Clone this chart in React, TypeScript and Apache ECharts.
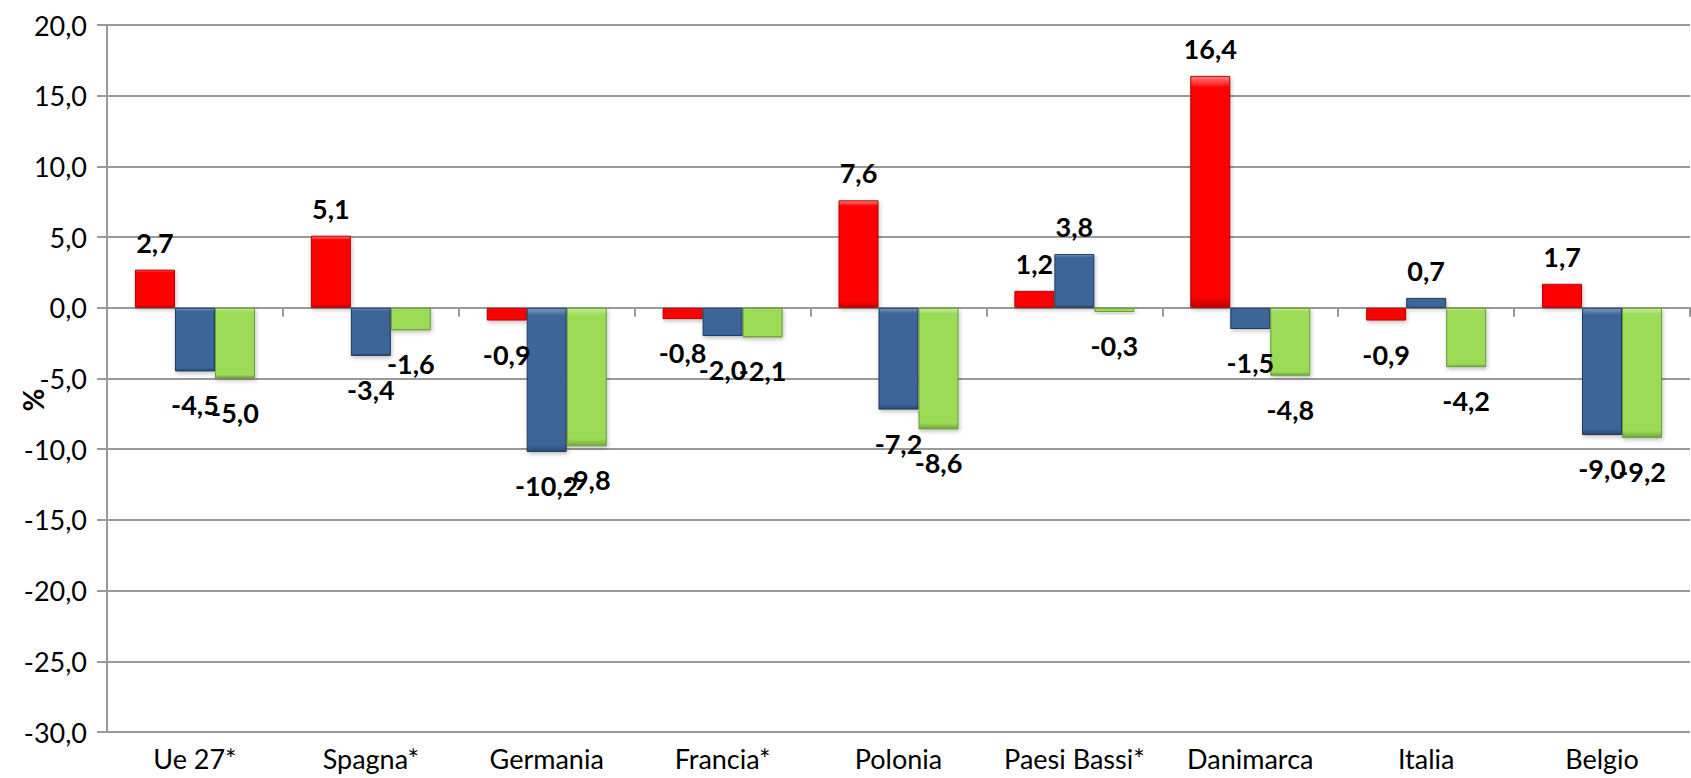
import React, { useEffect, useRef } from "react";
import * as echarts from "echarts";

const categories = ["Ue 27*", "Spagna*", "Germania", "Francia*", "Polonia", "Paesi Bassi*", "Danimarca", "Italia", "Belgio"];
const seriesRed = [2.7, 5.1, -0.9, -0.8, 7.6, 1.2, 16.4, -0.9, 1.7];
const seriesBlue = [-4.5, -3.4, -10.2, -2.0, -7.2, 3.8, -1.5, 0.7, -9.0];
const seriesGreen = [-5.0, -1.6, -9.8, -2.1, -8.6, -0.3, -4.8, -4.2, -9.2];
const yMin = -30;
const yMax = 20;
const yStep = 5;

const FONT = "Lato";

function fmt(v: number) {
  return v.toFixed(1).replace(".", ",");
}

function grad(light: string, base: string, dark: string) {
  return new echarts.graphic.LinearGradient(0, 0, 0, 1, [
    { offset: 0, color: light },
    { offset: 0.05, color: base },
    { offset: 0.95, color: base },
    { offset: 1, color: dark },
  ]);
}

function makeSeries(name: string, values: number[], light: string, base: string, dark: string, border: string) {
  return {
    name,
    type: "bar",
    xAxisIndex: 0,
    barWidth: 40,
    barGap: "0%",
    itemStyle: {
      color: grad(light, base, dark),
      borderColor: border,
      borderWidth: 1,
      shadowColor: "rgba(0,0,0,0.25)",
      shadowBlur: 4,
      shadowOffsetX: 1,
      shadowOffsetY: 2,
    },
    data: values.map((v) => ({
      value: v,
      label: {
        show: true,
        position: v >= 0 ? "top" : "bottom",
        distance: v >= 0 ? 14 : 20,
        formatter: () => fmt(v),
        fontFamily: FONT,
        fontWeight: "bold",
        fontSize: 27,
        color: "#000",
      },
    })),
  };
}

export default function App() {
  const ref = useRef<HTMLDivElement>(null);
  useEffect(() => {
    document.body.style.margin = "0";
    const chart = echarts.init(ref.current!, undefined, { renderer: "svg" });
    chart.setOption({
      animation: false,
      backgroundColor: "#fff",
      grid: { left: 107, right: 1, top: 25, bottom: 46, containLabel: false },
      xAxis: [
        {
          type: "category",
          data: categories,
          position: "bottom",
          axisLine: { show: false, onZero: false },
          axisTick: { show: false },
          axisLabel: { fontFamily: FONT, fontSize: 27, color: "#000", margin: 13, interval: 0 },
        },
        {
          type: "category",
          data: categories,
          position: "bottom",
          axisLine: { show: true, onZero: true, lineStyle: { color: "#999", width: 2 } },
          axisTick: { show: true, length: 9, lineStyle: { color: "#999", width: 2 } },
          axisLabel: { show: false },
        },
      ],
      yAxis: {
        type: "value",
        min: yMin,
        max: yMax,
        interval: yStep,
        axisLine: { show: true, lineStyle: { color: "#999", width: 2 } },
        axisTick: { show: true, length: 10, lineStyle: { color: "#999", width: 2 } },
        splitLine: { show: true, lineStyle: { color: "#999", width: 2 } },
        axisLabel: {
          formatter: (v: number) => fmt(v),
          fontFamily: FONT,
          fontSize: 27,
          color: "#000",
          margin: 20,
        },
      },
      graphic: [
        {
          type: "text",
          x: 33,
          y: 400,
          rotation: Math.PI / 2,
          style: {
            text: "%",
            fontFamily: FONT,
            fontWeight: "bold",
            fontSize: 28,
            fill: "#000",
            align: "center",
            verticalAlign: "middle",
          },
        },
      ],
      series: [
        makeSeries("A", seriesRed, "#ff8080", "#ff0000", "#c00000", "#b00000"),
        makeSeries("B", seriesBlue, "#7a9cc8", "#3c6698", "#2a4a72", "#1f3a5e"),
        makeSeries("C", seriesGreen, "#c4ee98", "#9bdb57", "#74a840", "#6c9a3a"),
      ],
    });
    return () => chart.dispose();
  }, []);
  return <div ref={ref} style={{ width: 1691, height: 778 }} />;
}
